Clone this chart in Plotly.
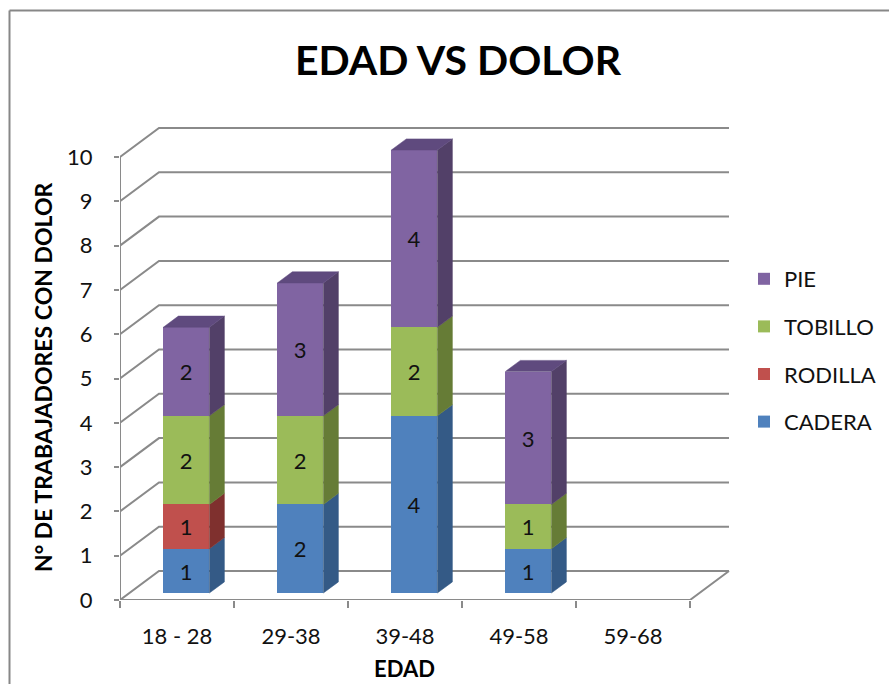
import plotly.graph_objects as go

# ---- data ----
categories = ["18 - 28", "29-38", "39-48", "49-58", "59-68"]
cadera = [1, 2, 4, 1, 0]
rodilla = [1, 0, 0, 0, 0]
tobillo = [2, 2, 2, 1, 0]
pie = [2, 3, 4, 3, 0]
y_ticks = list(range(0, 11))

series_names = ["CADERA", "RODILLA", "TOBILLO", "PIE"]
series_values = [cadera, rodilla, tobillo, pie]
front_colors = ["#4f81bd", "#c0504d", "#9bbb59", "#8064a2"]
side_colors = ["#345a86", "#7f302e", "#667c36", "#524068"]
top_colors = ["#3f6797", "#9a3c3a", "#7c9645", "#5f4a7e"]

# ---- layout geometry (pixels) ----
W, H = 889, 684
ML, MR, MT, MB = 120, 159, 127, 84
PX_PER_CAT = 114.0
PX_PER_UNIT = 44.3
plot_w = W - ML - MR
plot_h = H - MT - MB
x_range = [-0.5, -0.5 + plot_w / PX_PER_CAT]
y_range = [0, plot_h / PX_PER_UNIT]

# floor depth of the pseudo-3D box, in axis units
DX = 39 / PX_PER_CAT
DY = 29 / PX_PER_UNIT
FRONT = 0.24          # depth fraction where the bar front faces sit
BAR_DEPTH = 0.385     # bar depth as a fraction of the floor depth
BAR_W = 0.404
n = len(categories)
x_left, x_right = -0.5, n - 0.5

GRID = "#8a8a8a"
FONT = "Lato"
TXT = 22

fig = go.Figure()

# front faces: stacked bars with explicit bases
off_x, off_y = FRONT * DX, FRONT * DY
cum = [0.0] * n
bases_all = []
for k, (name, vals, col) in enumerate(zip(series_names, series_values, front_colors)):
    base = [c + off_y for c in cum]
    bases_all.append(list(cum))
    fig.add_trace(go.Bar(
        x=[i + off_x for i in range(n)], y=vals, base=base, width=BAR_W,
        name=name, legendgroup=name, legendrank=len(series_names) - k,
        marker=dict(color=col, line=dict(width=0)),
        text=[str(v) if v else "" for v in vals],
        textposition="inside", insidetextanchor="middle",
        insidetextfont=dict(color="#111111", size=TXT, family=FONT),
        textangle=0, constraintext="none", hoverinfo="skip",
    ))
    cum = [c + v for c, v in zip(cum, vals)]

# side and top faces of each stacked segment
sdx, sdy = BAR_DEPTH * DX, BAR_DEPTH * DY
totals = cum
for k, (vals, scol, tcol) in enumerate(zip(series_values, side_colors, top_colors)):
    for i in range(n):
        v = vals[i]
        if not v:
            continue
        b = bases_all[k][i] + off_y
        t = b + v
        xr = i + off_x + BAR_W / 2
        xl = i + off_x - BAR_W / 2
        fig.add_trace(go.Scatter(
            x=[xr, xr + sdx, xr + sdx, xr, xr], y=[b, b + sdy, t + sdy, t, b],
            fill="toself", fillcolor=scol, mode="lines",
            line=dict(color=scol, width=0.5), showlegend=False, hoverinfo="skip"))
        if abs(bases_all[k][i] + v - totals[i]) < 1e-9:
            fig.add_trace(go.Scatter(
                x=[xl, xr, xr + sdx, xl + sdx, xl], y=[t, t, t + sdy, t + sdy, t],
                fill="toself", fillcolor=tcol, mode="lines",
                line=dict(color=tcol, width=0.5), showlegend=False, hoverinfo="skip"))

# back-wall gridlines, floor and front axis line
shapes = []
for v in y_ticks:
    path = (f"M {x_left},{v} L {x_left + DX},{v + DY} "
            f"L {x_right + DX},{v + DY}")
    shapes.append(dict(type="path", path=path, xref="x", yref="y",
                       line=dict(color=GRID, width=2), layer="below"))
shapes.append(dict(type="path",
                   path=f"M {x_left},0 L {x_right},0 L {x_right + DX},{DY}",
                   xref="x", yref="y", line=dict(color=GRID, width=2), layer="below"))
shapes.append(dict(type="line", x0=x_left, x1=x_left, y0=0, y1=y_ticks[-1],
                   xref="x", yref="y", line=dict(color=GRID, width=2), layer="below"))

# chart area border (left and top edges visible)
bx = (9.5 - ML) / plot_w
by = (H - MB - 10.5) / plot_h
shapes.append(dict(type="line", xref="paper", yref="paper", x0=bx, x1=bx,
                   y0=by, y1=-0.3, line=dict(color="#878787", width=2)))
shapes.append(dict(type="line", xref="paper", yref="paper", x0=bx, x1=1.4,
                   y0=by, y1=by, line=dict(color="#878787", width=2)))

fig.update_layout(
    width=W, height=H,
    margin=dict(l=ML, r=MR, t=MT, b=MB, autoexpand=False),
    paper_bgcolor="white", plot_bgcolor="white",
    barmode="overlay", bargap=0,
    font=dict(family=FONT, color="#111111", size=TXT),
    title=dict(text="<b>EDAD VS DOLOR</b>", xref="container", yref="container",
               x=458 / W, y=1 - 61 / H, xanchor="center", yanchor="middle",
               font=dict(size=41, family=FONT, color="#000000")),
    shapes=shapes,
    showlegend=True,
    legend=dict(x=(744 - ML) / plot_w, y=(H - MB - 258) / plot_h,
                xanchor="left", yanchor="top", traceorder="grouped",
                tracegroupgap=16, font=dict(size=TXT, family=FONT),
                bgcolor="rgba(0,0,0,0)"),
    xaxis=dict(range=x_range, showgrid=False, zeroline=False, showline=False,
               tickvals=list(range(n)), ticktext=categories, ticks="",
               ticklabelstandoff=21, tickfont=dict(size=TXT),
               minor=dict(tickvals=[i - 0.5 for i in range(n + 1)], ticks="outside",
                          ticklen=7, tickwidth=2, tickcolor=GRID, showgrid=False)),
    yaxis=dict(range=y_range, showgrid=False, zeroline=False, showline=False,
               tickvals=y_ticks, ticks="outside", ticklen=5, tickwidth=2,
               tickcolor=GRID, ticklabelstandoff=17, tickfont=dict(size=TXT)),
    annotations=[
        dict(text="<b>N° DE TRABAJADORES CON DOLOR</b>", textangle=-90,
             xref="paper", yref="paper", x=(43 - ML) / plot_w,
             y=(H - MB - 377) / plot_h, xanchor="center", yanchor="middle",
             showarrow=False, font=dict(size=23, family=FONT, color="#000000")),
        dict(text="<b>EDAD</b>", xref="paper", yref="paper",
             x=(404 - ML) / plot_w, y=(H - MB - 668) / plot_h,
             xanchor="center", yanchor="middle", showarrow=False,
             font=dict(size=22, family=FONT, color="#000000")),
    ],
)

fig.write_html("out.html")
